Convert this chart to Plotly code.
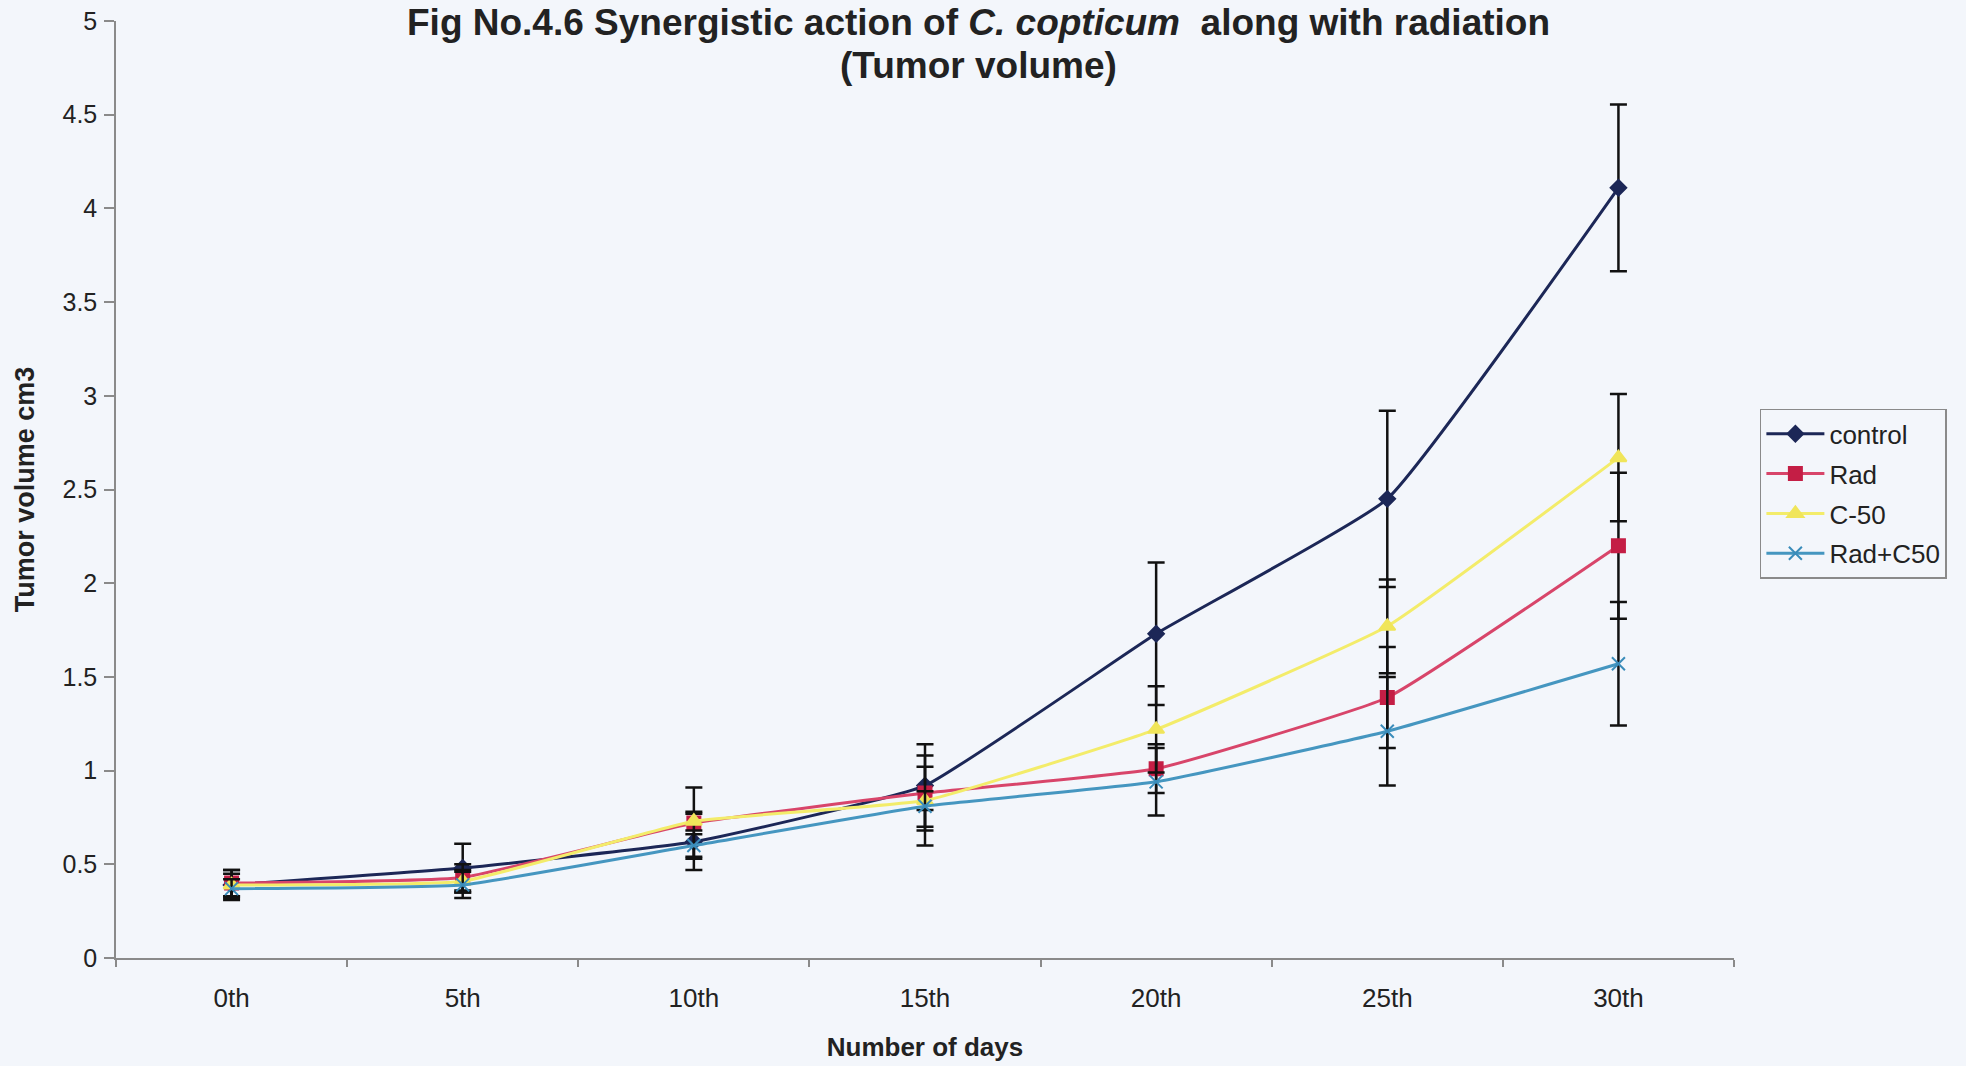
import plotly.graph_objects as go

days = ["0th", "5th", "10th", "15th", "20th", "25th", "30th"]

control = [0.39, 0.48, 0.62, 0.92, 1.73, 2.45, 4.11]
control_err = [0.08, 0.13, 0.15, 0.22, 0.38, 0.47, 0.445]

rad = [0.40, 0.43, 0.72, 0.88, 1.01, 1.39, 2.20]
rad_err = [0.07, 0.07, 0.19, 0.20, 0.13, 0.27, 0.39]

c50 = [0.39, 0.41, 0.73, 0.84, 1.22, 1.77, 2.67]
c50_err = [0.06, 0.06, 0.05, 0.05, 0.23, 0.25, 0.34]

radc50 = [0.37, 0.39, 0.60, 0.81, 0.94, 1.21, 1.57]
radc50_err = [0.05, 0.07, 0.06, 0.21, 0.18, 0.29, 0.33]

title_line1 = "<b>Fig No.4.6 Synergistic action of <i>C. copticum</i>  along with radiation</b>"
title_line2 = "<b>(Tumor volume)</b>"

series = [
    ("control", control, control_err, "#1c2757", "#1c2757", "diamond", 12),
    ("Rad", rad, rad_err, "#d8456a", "#c41e45", "square", 13),
    ("C-50", c50, c50_err, "#f3ec6a", "#f0e55a", "triangle-up", 14),
    ("Rad+C50", radc50, radc50_err, "#4596c0", "#3a8cba", "x-thin-open", 13),
]

FONT = "Arial, Liberation Sans, sans-serif"
BG = "#f3f6fb"

fig = go.Figure()
for name, vals, errs, lcol, mcol, sym, msz in series:
    fig.add_trace(go.Scatter(
        x=days, y=vals, name=name, legendgroup=name, mode="lines+markers",
        line=dict(color=lcol, width=3, shape="spline", smoothing=0.35),
        marker=dict(symbol=sym, size=msz, color=mcol,
                    line=dict(color=mcol, width=2)),
        error_y=dict(type="data", array=errs, visible=True,
                     color="#111111", thickness=2.5, width=8.5),
    ))

fig.add_annotation(text=title_line1, xref="paper", yref="paper",
                   x=0.533, y=0.9979, xanchor="center", yanchor="middle",
                   showarrow=False, font=dict(size=37, family=FONT, color="#222222"))
fig.add_annotation(text=title_line2, xref="paper", yref="paper",
                   x=0.533, y=0.952, xanchor="center", yanchor="middle",
                   showarrow=False, font=dict(size=37, family=FONT, color="#222222"))

fig.update_layout(
    width=1966, height=1066,
    paper_bgcolor=BG, plot_bgcolor=BG,
    margin=dict(l=116, r=232, t=21, b=108),
    font=dict(family=FONT, color="#222222", size=26),
    showlegend=True,
    legend=dict(
        x=1.016, xanchor="left", y=0.586, yanchor="top",
        bgcolor=BG, bordercolor="#8a8a8a", borderwidth=1.5,
        font=dict(size=26, family=FONT, color="#222222"),
        tracegroupgap=3, itemwidth=58,
    ),
    xaxis=dict(
        type="category", tickson="boundaries", range=[-0.5, 6.5],
        ticks="outside", ticklen=7, tickcolor="#8a8a8a", tickwidth=1.5,
        showline=True, linecolor="#8a8a8a", linewidth=1.5,
        showgrid=False, zeroline=False,
        tickfont=dict(size=26, family=FONT),
        ticklabelstandoff=16,
        title=dict(text="<b>Number of days</b>", font=dict(size=26, family=FONT), standoff=26),
        automargin=False,
    ),
    yaxis=dict(
        range=[0, 5], tickmode="array",
        tickvals=[0, 0.5, 1, 1.5, 2, 2.5, 3, 3.5, 4, 4.5, 5],
        ticktext=["0", "0.5", "1", "1.5", "2", "2.5", "3", "3.5", "4", "4.5", "5"],
        ticks="outside", ticklen=10, tickcolor="#8a8a8a", tickwidth=1.5,
        showline=True, linecolor="#8a8a8a", linewidth=1.5,
        showgrid=False, zeroline=False,
        tickfont=dict(size=25, family=FONT),
        ticklabelstandoff=2,
        title=dict(text="<b>Tumor volume cm3</b>", font=dict(size=27, family=FONT), standoff=20),
        automargin=False,
    ),
)

fig.write_html("out.html")
